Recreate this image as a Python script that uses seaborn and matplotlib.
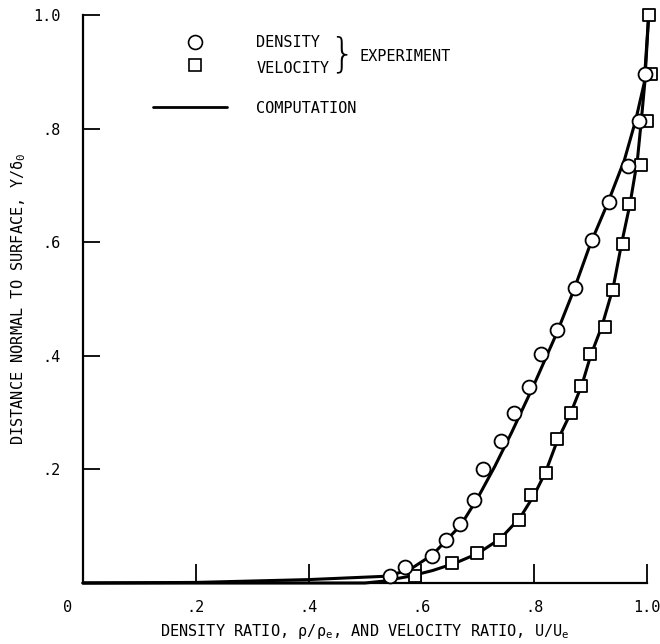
import matplotlib
matplotlib.use("Agg")
import matplotlib.pyplot as plt
import matplotlib.transforms as mtransforms
import seaborn as sns
import pandas as pd

# ---- data ----
density_x = [0.544, 0.571, 0.618, 0.644, 0.668, 0.694, 0.710, 0.742, 0.765, 0.791,
             0.812, 0.840, 0.873, 0.903, 0.933, 0.967, 0.985, 0.997]
density_y = [0.012, 0.028, 0.048, 0.075, 0.104, 0.147, 0.201, 0.250, 0.300, 0.345,
             0.403, 0.445, 0.519, 0.604, 0.670, 0.735, 0.814, 0.897]

velocity_x = [0.589, 0.654, 0.699, 0.739, 0.773, 0.795, 0.821, 0.840, 0.865, 0.883,
              0.899, 0.926, 0.940, 0.958, 0.968, 0.990, 1.000, 1.007, 1.004]
velocity_y = [0.012, 0.036, 0.052, 0.076, 0.111, 0.155, 0.194, 0.253, 0.299, 0.347,
              0.404, 0.450, 0.515, 0.597, 0.667, 0.736, 0.814, 0.897, 1.000]

comp_density_x = [0.0, 0.20, 0.40, 0.54, 0.58, 0.62, 0.67, 0.70, 0.73, 0.76, 0.80,
                  0.84, 0.87, 0.90, 0.93, 0.96, 0.98, 0.995, 1.003]
comp_density_y = [0.0, 0.001, 0.006, 0.012, 0.024, 0.050, 0.102, 0.150, 0.205, 0.265,
                  0.350, 0.440, 0.515, 0.598, 0.668, 0.745, 0.815, 0.880, 1.0]

comp_velocity_x = [0.0, 0.50, 0.53, 0.58, 0.62, 0.66, 0.70, 0.74, 0.775, 0.80, 0.82,
                   0.84, 0.865, 0.885, 0.90, 0.92, 0.94, 0.955, 0.97, 0.983, 0.99,
                   0.996, 1.003]
comp_velocity_y = [0.0, 0.0, 0.003, 0.012, 0.022, 0.035, 0.052, 0.078, 0.115, 0.155,
                   0.195, 0.248, 0.300, 0.350, 0.400, 0.452, 0.520, 0.598, 0.668,
                   0.745, 0.815, 0.880, 1.0]

x_ticks = [0.0, 0.2, 0.4, 0.6, 0.8, 1.0]
x_ticklabels = ["0", ".2", ".4", ".6", ".8", "1.0"]
y_ticks = [0.2, 0.4, 0.6, 0.8, 1.0]
y_ticklabels = [".2", ".4", ".6", ".8", "1.0"]

legend_labels = ["DENSITY", "VELOCITY", "EXPERIMENT", "COMPUTATION"]

# ---- style ----
sns.set_style("ticks")
FONT = ["DejaVu Sans Mono", "DejaVu Sans"]
plt.rcParams["font.family"] = FONT
plt.rcParams["mathtext.fontset"] = "dejavusans"
plt.rcParams["mathtext.default"] = "regular"
plt.rcParams["text.color"] = "black"
plt.rcParams["axes.labelcolor"] = "black"

fig = plt.figure(figsize=(6.6, 6.44), dpi=100)
ax = fig.add_axes([83 / 660, 61 / 644, 564 / 660, 568 / 644])

df_cd = pd.DataFrame({"x": comp_density_x, "y": comp_density_y})
df_cv = pd.DataFrame({"x": comp_velocity_x, "y": comp_velocity_y})
df_d = pd.DataFrame({"x": density_x, "y": density_y})
df_v = pd.DataFrame({"x": velocity_x, "y": velocity_y})

for d in (df_cd, df_cv):
    sns.lineplot(data=d, x="x", y="y", ax=ax, color="black", linewidth=2.2,
                 sort=False, estimator=None, clip_on=False, zorder=2)

sns.scatterplot(data=df_v, x="x", y="y", ax=ax, marker="s", s=80,
                facecolor="white", edgecolor="black", linewidth=1.3,
                clip_on=False, zorder=3)
sns.scatterplot(data=df_d, x="x", y="y", ax=ax, marker="o", s=100,
                facecolor="white", edgecolor="black", linewidth=1.3,
                clip_on=False, zorder=4)

ax.set_xlim(0, 1.0)
ax.set_ylim(0, 1.0)
ax.set_xticks(x_ticks)
ax.set_xticklabels(x_ticklabels)
ax.set_yticks(y_ticks)
ax.set_yticklabels(y_ticklabels)

for s in ("top", "right"):
    ax.spines[s].set_visible(False)
for s in ("left", "bottom"):
    ax.spines[s].set_linewidth(1.6)
    ax.spines[s].set_color("black")

ax.tick_params(axis="x", direction="in", length=14, width=1.3, pad=12,
               labelsize=11, colors="black")
ax.tick_params(axis="y", direction="in", length=12, width=1.3, pad=16,
               labelsize=11, colors="black")

# shift the "0" label left as in the reference
lab0 = ax.get_xticklabels()[0]
lab0.set_transform(lab0.get_transform() +
                   mtransforms.ScaledTranslation(-0.15, 0, fig.dpi_scale_trans))

ax.set_xlabel(r"DENSITY RATIO, $\rho/\rho_e$, AND VELOCITY RATIO, $U/U_e$",
              fontsize=11)
ax.set_ylabel(r"DISTANCE NORMAL TO SURFACE, Y/$\delta_0$", fontsize=11)
ax.xaxis.set_label_coords(0.5, -0.068)
ax.yaxis.set_label_coords(-0.098, 0.5)

# ---- legend drawn in axes ----
tA = ax.transAxes
ax.plot([0.199], [0.953], marker="o", ms=10, mfc="white", mec="black",
        mew=1.2, transform=tA, clip_on=False)
ax.plot([0.199], [0.912], marker="s", ms=9, mfc="white", mec="black",
        mew=1.2, transform=tA, clip_on=False)
ax.plot([0.124, 0.255], [0.838, 0.838], color="black", lw=2.0, transform=tA)
ax.text(0.307, 0.951, legend_labels[0], transform=tA, fontsize=11,
        va="center", ha="left")
ax.text(0.307, 0.905, legend_labels[1], transform=tA, fontsize=11,
        va="center", ha="left")
ax.text(0.459, 0.929, "}", transform=tA, fontsize=29, va="center",
        ha="center", family="DejaVu Sans", fontweight="light")
ax.text(0.491, 0.927, legend_labels[2], transform=tA, fontsize=11,
        va="center", ha="left")
ax.text(0.307, 0.836, legend_labels[3], transform=tA, fontsize=11,
        va="center", ha="left")

fig.savefig("out.png", dpi=100)
